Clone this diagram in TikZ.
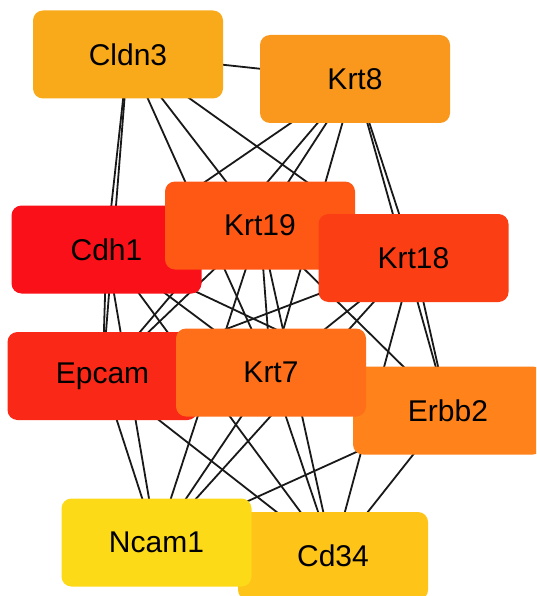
\documentclass[tikz,border=0pt]{standalone}
\usepackage{fontspec}
\setmainfont{Liberation Sans}
\usetikzlibrary{backgrounds}
\definecolor{cCldn}{HTML}{F8AA1A}
\definecolor{cKrtEight}{HTML}{F9981C}
\definecolor{cCdh}{HTML}{FA1018}
\definecolor{cKrtNineteen}{HTML}{FF5814}
\definecolor{cKrtEighteen}{HTML}{FC3E14}
\definecolor{cEpcam}{HTML}{FA2816}
\definecolor{cKrtSeven}{HTML}{FF6E18}
\definecolor{cErbb}{HTML}{FF821A}
\definecolor{cNcam}{HTML}{FCDA18}
\definecolor{cCd}{HTML}{FEC418}
\tikzset{
  gene/.style={draw=none, rounded corners=10pt, minimum width=190pt, minimum height=88pt,
    inner sep=0pt, font=\fontsize{30}{35}\selectfont, text=black},
  link/.style={draw=black!90, line width=1.8pt},
}
\begin{document}
\begin{tikzpicture}[x=1pt,y=-1pt]
\useasboundingbox (0,0) rectangle (536,596);
\clip (0,0) rectangle (536,596);
\node[gene, fill=cCldn] (cldn3) at (128,54.5) {Cldn3};
\node[gene, fill=cKrtEight] (krt8) at (355,79) {Krt8};
\node[gene, fill=cCdh] (cdh1) at (106.5,249.5) {Cdh1};
\node[gene, fill=cKrtNineteen] (krt19) at (260,225.5) {Krt19};
\node[gene, fill=cKrtEighteen] (krt18) at (413.5,258) {Krt18};
\node[gene, fill=cEpcam] (epcam) at (102.5,376) {Epcam};
\node[gene, fill=cErbb] (erbb2) at (448,410.5) {Erbb2};
\node[gene, fill=cKrtSeven] (krt7) at (271,372.5) {Krt7};
\node[gene, fill=cCd] (cd34) at (333,556) {Cd34};
\node[gene, fill=cNcam] (ncam1) at (156.5,542.5) {Ncam1};
\begin{pgfonlayer}{background}
\fill[white] (0,0) rectangle (536,596);
\foreach \a/\b in {cldn3/krt8, cldn3/cdh1, cldn3/epcam, cldn3/krt19, cldn3/krt18, cldn3/krt7,
  krt8/cdh1, krt8/epcam, krt8/krt19, krt8/krt7, krt8/krt18, krt8/erbb2,
  cdh1/epcam, cdh1/ncam1, cdh1/cd34, cdh1/krt7, cdh1/erbb2,
  krt19/epcam, krt19/ncam1, krt19/krt7, krt19/cd34, krt19/erbb2,
  krt18/epcam, krt18/krt7, krt18/ncam1, krt18/cd34, krt18/erbb2,
  epcam/ncam1, epcam/cd34, krt7/ncam1, krt7/cd34, erbb2/ncam1, erbb2/cd34}
  \draw[link] (\a.center) -- (\b.center);
\end{pgfonlayer}
\end{tikzpicture}
\end{document}
